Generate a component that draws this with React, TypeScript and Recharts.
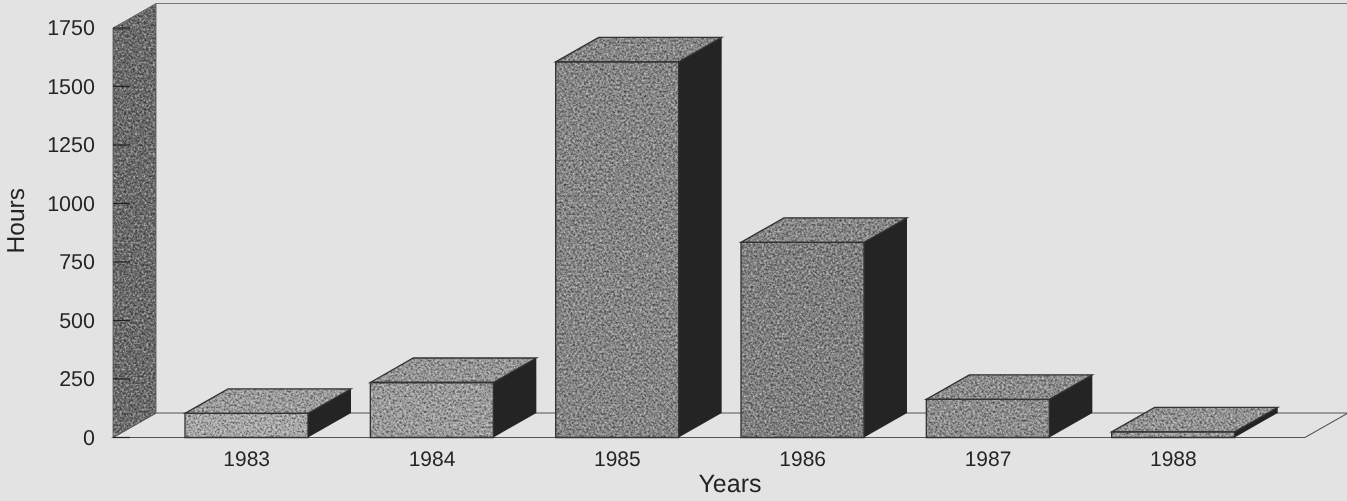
import { BarChart, Bar, XAxis, YAxis, usePlotArea } from 'recharts'

const YEARS = ['1983', '1984', '1985', '1986', '1987', '1988']
const HOURS = [103, 235, 1605, 834, 163, 24]
const Y_TICKS = [0, 250, 500, 750, 1000, 1250, 1500, 1750]

const chartData = YEARS.map((year, i) => ({ year, hours: HOURS[i] }))

// the scan gets darker towards the tall bars, so every bar has its own grey
const FRONT_GREYS = ['#a8a8a8', '#9b9b9b', '#858585', '#7f7f7f', '#8d8d8d', '#9c9c9c']
const TOP_GREYS = ['#9c9c9c', '#969696', '#868686', '#868686', '#8c8c8c', '#939393']
const SIDE_GREY = '#242424'
const WALL_GREY = '#686868'
const LINE_GREY = '#333333'
const BACKGROUND = '#e3e3e3'
const TEXT_GREY = '#242424'

const DEPTH_X = 43
const DEPTH_Y = 24.5
const FONT = '"Liberation Sans", Arial, sans-serif'

const pts = (list: number[][]) => list.map((p) => p.join(',')).join(' ')

function Box3D(props: any) {
  const { x, y, width, height, index } = props
  const r = x + width
  const b = y + height
  const front = [[x, y], [r, y], [r, b], [x, b]]
  const top = [[x, y], [x + DEPTH_X, y - DEPTH_Y], [r + DEPTH_X, y - DEPTH_Y], [r, y]]
  const side = [[r, y], [r + DEPTH_X, y - DEPTH_Y], [r + DEPTH_X, b - DEPTH_Y], [r, b]]
  return (
    <g>
      <polygon points={pts(top)} fill={TOP_GREYS[index]} filter="url(#grain)" />
      <polygon points={pts(front)} fill={FRONT_GREYS[index]} filter="url(#grain)" />
      <polygon points={pts(side)} fill={SIDE_GREY} />
      <polygon points={pts(top)} fill="none" stroke={LINE_GREY} strokeWidth={1.3} />
      <polygon points={pts(front)} fill="none" stroke={LINE_GREY} strokeWidth={1.3} />
    </g>
  )
}

function Walls() {
  const plot = usePlotArea()
  if (!plot) return null
  const l = plot.x
  const t = plot.y
  const r = plot.x + plot.width
  const b = plot.y + plot.height
  const wall = [[l, t], [l + DEPTH_X, t - DEPTH_Y], [l + DEPTH_X, b - DEPTH_Y], [l, b]]
  const floor = [[l, b], [l + DEPTH_X, b - DEPTH_Y], [r + DEPTH_X, b - DEPTH_Y], [r, b]]
  return (
    <g>
      <defs>
        <filter id="grain" x="0" y="0" width="100%" height="100%" colorInterpolationFilters="sRGB">
          <feTurbulence type="fractalNoise" baseFrequency="0.45" numOctaves="4" seed="7" result="n" />
          <feColorMatrix
            in="n"
            type="matrix"
            values="0.7 0 0 0 0.15  0.7 0 0 0 0.15  0.7 0 0 0 0.15  0 0 0 0 1"
            result="g"
          />
          <feBlend in="SourceGraphic" in2="g" mode="overlay" result="b" />
          <feComposite in="b" in2="SourceGraphic" operator="in" />
        </filter>
      </defs>
      <polygon points={pts(floor)} fill={BACKGROUND} stroke="#555555" strokeWidth={1.1} />
      <line x1={l + DEPTH_X} y1={t - DEPTH_Y} x2={r + DEPTH_X} y2={t - DEPTH_Y} stroke="#777777" strokeWidth={1} />
      <polygon points={pts(wall)} fill={WALL_GREY} filter="url(#grain)" />
      <polygon points={pts(wall)} fill="none" stroke="#555555" strokeWidth={0.8} />
    </g>
  )
}

function HourTick(props: any) {
  const { x, y, payload } = props
  return (
    <g>
      <text
        x={x - 18}
        y={y}
        dy={7}
        textAnchor="end"
        fontSize={21.5}
        fontFamily={FONT}
        fill={TEXT_GREY}
        textRendering="geometricPrecision"
      >
        {payload.value}
      </text>
      <line x1={x} y1={y} x2={x + 17} y2={y} stroke="#222222" strokeWidth={1.2} />
    </g>
  )
}

function YearsLabel(props: any) {
  const { viewBox } = props
  return (
    <text
      x={730}
      y={viewBox.y + viewBox.height - 9}
      textAnchor="middle"
      fontSize={25}
      fontFamily={FONT}
      fill={TEXT_GREY}
      textRendering="geometricPrecision"
    >
      Years
    </text>
  )
}

function HoursLabel(props: any) {
  const { viewBox } = props
  const cy = viewBox.y + viewBox.height / 2 - 12
  return (
    <text
      transform={`rotate(-90 24 ${cy})`}
      x={24}
      y={cy}
      textAnchor="middle"
      fontSize={24.5}
      fontFamily={FONT}
      fill={TEXT_GREY}
      textRendering="geometricPrecision"
    >
      Hours
    </text>
  )
}

export default function App() {
  return (
    <div
      style={{
        position: 'absolute',
        left: 0,
        top: 0,
        width: 1347,
        height: 501,
        background: BACKGROUND,
        filter: 'blur(0.6px)',
      }}
    >
      <BarChart
        width={1347}
        height={501}
        data={chartData}
        margin={{ top: 28, right: 42, bottom: 0, left: 0 }}
        barCategoryGap={0}
      >
        <Walls />
        <XAxis
          dataKey="year"
          height={63.5}
          padding={{ left: 41, right: 39 }}
          axisLine={false}
          tickLine={false}
          tickMargin={8}
          tick={{ fontSize: 21, fontFamily: FONT, fill: TEXT_GREY, textRendering: 'geometricPrecision' }}
          label={<YearsLabel />}
        />
        <YAxis
          width={113}
          domain={[0, 1750]}
          ticks={Y_TICKS}
          interval={0}
          axisLine={false}
          tickLine={false}
          tickSize={0}
          tickMargin={0}
          tick={<HourTick />}
          label={<HoursLabel />}
        />
        <Bar dataKey="hours" barSize={123} shape={<Box3D />} isAnimationActive={false} />
      </BarChart>
    </div>
  )
}
